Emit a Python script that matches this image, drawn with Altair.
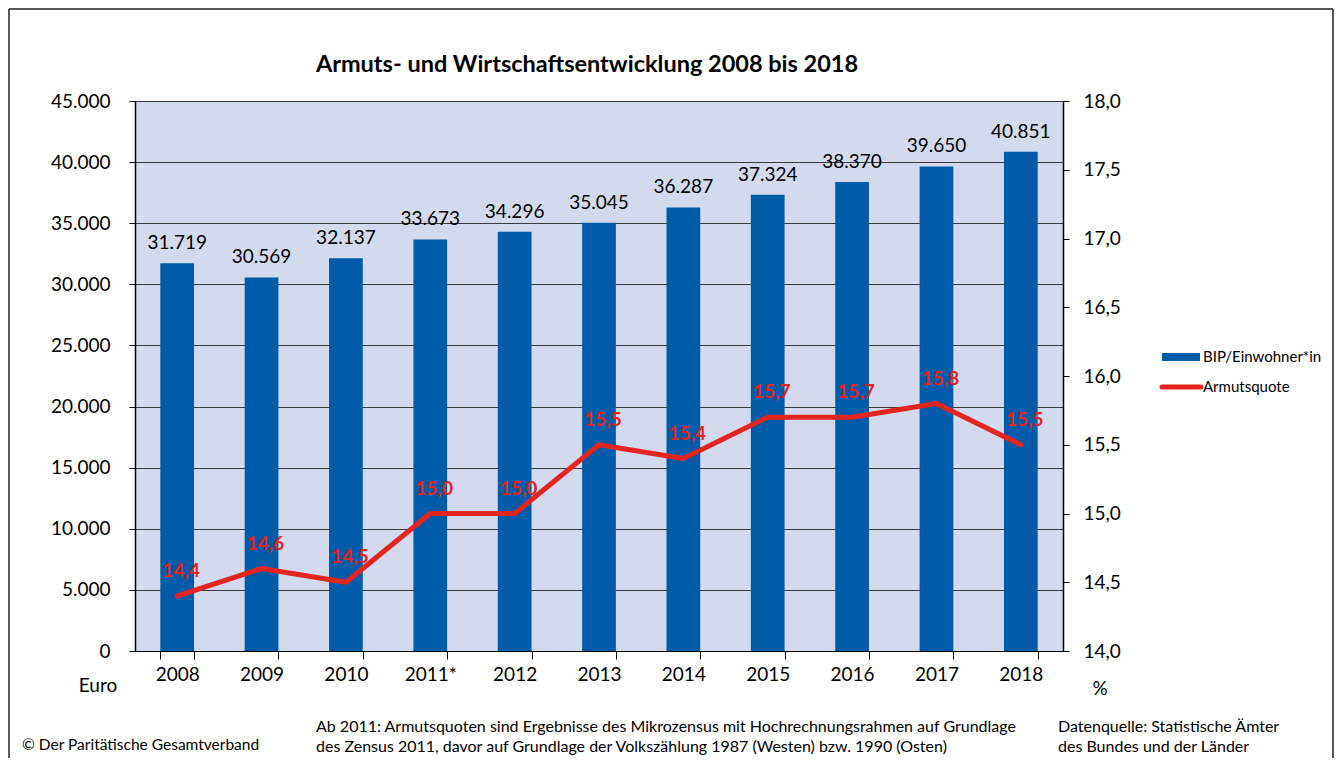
import altair as alt
import pandas as pd

# ---- data ----
years = ["2008", "2009", "2010", "2011*", "2012", "2013", "2014", "2015", "2016", "2017", "2018"]
bip = [31719, 30569, 32137, 33673, 34296, 35045, 36287, 37324, 38370, 39650, 40851]
armut = [14.4, 14.6, 14.5, 15.0, 15.0, 15.5, 15.4, 15.7, 15.7, 15.8, 15.5]
left_ticks = [0, 5000, 10000, 15000, 20000, 25000, 30000, 35000, 40000, 45000]
right_ticks = [14.0, 14.5, 15.0, 15.5, 16.0, 16.5, 17.0, 17.5, 18.0]

title_text = "Armuts- und Wirtschaftsentwicklung 2008 bis 2018"
legend_bar = "BIP/Einwohner*in"
legend_line = "Armutsquote"
note_left = "© Der Paritätische Gesamtverband"
note_mid = ["Ab 2011: Armutsquoten sind Ergebnisse des  Mikrozensus mit Hochrechnungsrahmen auf Grundlage",
            "des  Zensus 2011, davor auf Grundlage der Volkszählung 1987 (Westen) bzw. 1990 (Osten)"]
note_right = ["Datenquelle: Statistische Ämter", "des Bundes und der Länder"]

FONT = "Lato"
BAR = "#005ca9"
RED = "#e3241f"
BG = "#d4daee"

df = pd.DataFrame({"Jahr": years, "BIP": bip, "Quote": armut})
df["BIP_lbl"] = [f"{v:,}".replace(",", ".") for v in bip]
df["Quote_lbl"] = [f"{v:.1f}".replace(".", ",") for v in armut]

W, H = 928, 550

xenc = alt.X("Jahr:N", sort=years,
             scale=alt.Scale(paddingInner=0.6, paddingOuter=0.3),
             axis=alt.Axis(title=None, labelAngle=0, labelFontSize=19, labelFont=FONT,
                           labelColor="#000", tickColor="#000", domainColor="#000",
                           tickSize=8, labelPadding=6, tickBand="extent", domainWidth=1.2))

yleft = alt.Y("BIP:Q", scale=alt.Scale(domain=[0, 45000], nice=False),
              axis=alt.Axis(title=None, values=left_ticks, orient="left",
                            labelExpr="replace(format(datum.value, ','), ',', '.')",
                            labelFontSize=19, labelFont=FONT, labelColor="#000",
                            tickColor="#000", domainColor="#000", tickSize=6, labelPadding=19,
                            grid=True, gridColor="#3a3a3a", gridWidth=1.2, gridOpacity=1,
                            domainWidth=1.5))

yright = alt.Y("Quote:Q", scale=alt.Scale(domain=[14, 18], zero=False, nice=False),
               axis=alt.Axis(title=None, values=right_ticks, orient="right",
                             labelExpr="replace(format(datum.value, '.1f'), '.', ',')",
                             labelFontSize=19, labelFont=FONT, labelColor="#000",
                             tickColor="#000", domainColor="#000", tickSize=6, labelPadding=14,
                             grid=False, domainWidth=1.5))

bars = alt.Chart(df).mark_bar(color=BAR).encode(x=xenc, y=yleft)
bar_text = alt.Chart(df).mark_text(font=FONT, fontSize=19, color="#000", baseline="middle", dy=-20).encode(
    x=alt.X("Jahr:N", sort=years), y="BIP:Q", text="BIP_lbl:N")

line = alt.Chart(df).mark_line(color=RED, strokeWidth=5, strokeCap="round", strokeJoin="round").encode(
    x=alt.X("Jahr:N", sort=years), y=yright)
line_text = alt.Chart(df).mark_text(font=FONT, fontSize=19, fontWeight="bold", color=RED,
                                    baseline="middle", dy=-25, dx=4).encode(
    x=alt.X("Jahr:N", sort=years), y="Quote:Q", text="Quote_lbl:N")

left = alt.layer(bars, bar_text)
right = alt.layer(line, line_text)
main = alt.layer(left, right).resolve_scale(y="independent")

# ---- annotations (pixel positions relative to plot origin) ----
one = pd.DataFrame({"a": [0]})

def txt(s, x, y, size=14, align="left", weight="normal", font=FONT, color="#000"):
    return alt.Chart(one).mark_text(text=s, align=align, baseline="middle", fontSize=size,
                                    fontWeight=weight, font=font, color=color).encode(
        x=alt.value(x), y=alt.value(y))

ann = [
    txt(title_text, 452, -36, size=23.5, align="center", weight="bold"),
    txt("Euro", -37, 585, size=19, align="center"),
    txt("%", 965, 588, size=19, align="center"),
    txt(note_left, -113, 644, size=15.5),
    txt(note_mid[0], 181, 626, size=16),
    txt(note_mid[1], 181, 646, size=16),
    txt(note_right[0], 923, 626, size=16),
    txt(note_right[1], 923, 646, size=16),
    txt(legend_bar, 1068, 256, size=15),
    txt(legend_line, 1068, 286, size=15),
    alt.Chart(one).mark_rect(color=BAR).encode(x=alt.value(1027), x2=alt.value(1065),
                                               y=alt.value(252), y2=alt.value(260)),
    alt.Chart(one).mark_rule(color=RED, strokeWidth=5, strokeCap="round").encode(
        x=alt.value(1027), x2=alt.value(1066), y=alt.value(286)),
    # outer frame (left, top, right)
    alt.Chart(one).mark_rule(color="#222", strokeWidth=1.5).encode(
        x=alt.value(-126), y=alt.value(-92), y2=alt.value(660)),
    alt.Chart(one).mark_rule(color="#222", strokeWidth=1.5).encode(
        x=alt.value(-126), x2=alt.value(1198), y=alt.value(-92)),
    alt.Chart(one).mark_rule(color="#222", strokeWidth=1.5).encode(
        x=alt.value(1198), y=alt.value(-92), y2=alt.value(660)),
]

chart = alt.layer(main, *ann).properties(
    width=W, height=H,
    padding={"left": 127, "top": 93, "right": 272, "bottom": 107},
    autosize=alt.AutoSizeParams(type="none"),
    background="white",
).configure_view(fill=BG, stroke=None)

chart.save("out.html", embed_options={"renderer": "svg", "actions": False})
